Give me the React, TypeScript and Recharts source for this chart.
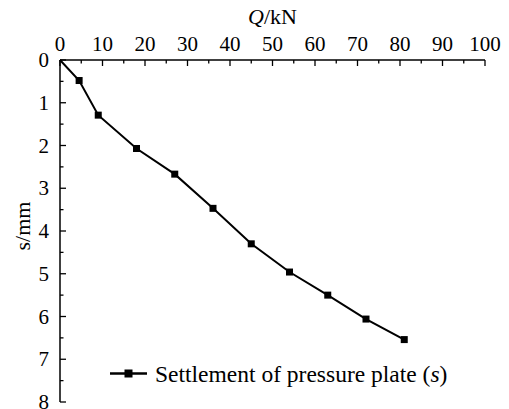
import React from "react";
import { LineChart, Line, XAxis, YAxis, Legend } from "recharts";

const loads = [0, 4.5, 9, 18, 27, 36, 45, 54, 63, 72, 81];
const settlements = [0, 0.48, 1.29, 2.07, 2.67, 3.47, 4.3, 4.96, 5.5, 6.06, 6.54];
const xTicks = [0, 5, 10, 15, 20, 25, 30, 35, 40, 45, 50, 55, 60, 65, 70, 75, 80, 85, 90, 95, 100];
const yTicks = [0, 0.5, 1, 1.5, 2, 2.5, 3, 3.5, 4, 4.5, 5, 5.5, 6, 6.5, 7, 7.5, 8];
const seriesName = "Settlement of pressure plate";

const data = loads.map((q, i) => ({ q, s: settlements[i] }));

const FONT = "Liberation Serif";

const XTick = (props: any) => {
  const { x, y, payload } = props;
  const v = payload.value;
  const major = v % 10 === 0;
  return (
    <g>
      <line x1={x} y1={y} x2={x} y2={y + (major ? 6 : 3.5)} stroke="#000" strokeWidth={1.3} />
      {major && (
        <text x={x} y={y - 9} textAnchor="middle" style={{ fontFamily: FONT, fontSize: 21 }} fill="#000">
          {v}
        </text>
      )}
    </g>
  );
};

const YTick = (props: any) => {
  const { x, y, payload } = props;
  const v = payload.value;
  const major = Number.isInteger(v);
  return (
    <g>
      <line x1={x} y1={y} x2={x + (major ? 6 : 3.5)} y2={y} stroke="#000" strokeWidth={1.3} />
      {major && (
        <text x={x - 11} y={y + 7} textAnchor="end" style={{ fontFamily: FONT, fontSize: 21 }} fill="#000">
          {v}
        </text>
      )}
    </g>
  );
};

const SquareDot = (props: any) => {
  const { cx, cy, index } = props;
  if (index === 0 || cx == null || cy == null) return <g key={`d${index}`} />;
  return <rect key={`d${index}`} x={cx - 3.5} y={cy - 3.5} width={7} height={7} fill="#000" />;
};

const XTitle = (props: any) => {
  const vb = props.viewBox || {};
  const cx = vb.x + vb.width / 2;
  return (
    <text x={cx} y={24} textAnchor="middle" style={{ fontFamily: FONT, fontSize: 22 }} fill="#000">
      <tspan fontStyle="italic">Q</tspan>
      <tspan>/kN</tspan>
    </text>
  );
};

const YTitle = (props: any) => {
  const vb = props.viewBox || {};
  const cy = vb.y + vb.height / 2 - 5;
  const x = 30;
  return (
    <text
      x={x}
      y={cy}
      textAnchor="middle"
      transform={`rotate(-90, ${x}, ${cy})`}
      style={{ fontFamily: FONT, fontSize: 22 }}
      fill="#000"
    >
      s/mm
    </text>
  );
};

const LegendContent = () => (
  <svg width={360} height={30} style={{ display: "block" }}>
    <line x1={0} y1={13.5} x2={37} y2={13.5} stroke="#000" strokeWidth={2.6} />
    <rect x={14.5} y={9.5} width={8} height={8} fill="#000" />
    <text x={45} y={22} style={{ fontFamily: FONT, fontSize: 23.5 }} fill="#000">
      {seriesName} (<tspan fontStyle="italic">s</tspan>)
    </text>
  </svg>
);

export default function App() {
  return (
    <div style={{ position: "absolute", left: 0, top: 0, width: 509, height: 409, background: "#fff", fontFamily: FONT }}>
      <LineChart width={509} height={409} data={data} margin={{ top: 0, right: 24, bottom: 7, left: 0 }}>
        <XAxis
          dataKey="q"
          type="number"
          orientation="top"
          domain={[0, 100]}
          ticks={xTicks}
          interval={0}
          height={60}
          tickSize={0}
          tickMargin={0}
          tickLine={false}
          tick={<XTick />}
          axisLine={{ stroke: "#000", strokeWidth: 1.5 }}
          label={{ content: <XTitle /> }}
        />
        <YAxis
          type="number"
          reversed
          domain={[0, 8]}
          ticks={yTicks}
          interval={0}
          width={60}
          tickSize={0}
          tickMargin={0}
          tickLine={false}
          tick={<YTick />}
          axisLine={{ stroke: "#000", strokeWidth: 1.5 }}
          label={{ content: <YTitle /> }}
        />
        <Legend
          layout="horizontal"
          verticalAlign="middle"
          align="center"
          content={<LegendContent />}
          wrapperStyle={{ position: "absolute", left: 110, top: 360, width: 360, height: 30 }}
        />
        <Line
          dataKey="s"
          name={seriesName}
          stroke="#000"
          strokeWidth={2}
          dot={<SquareDot />}
          activeDot={false}
          isAnimationActive={false}
        />
      </LineChart>
    </div>
  );
}
